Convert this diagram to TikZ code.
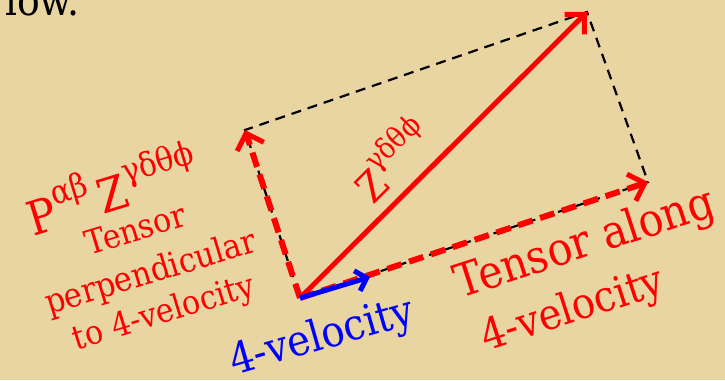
\documentclass[tikz,border=0pt]{standalone}
\usepackage{fontspec}
\setmainfont{DejaVu Serif}[FakeStretch=0.9]
\usetikzlibrary{arrows.meta}
\definecolor{parch}{RGB}{232,213,162}
\definecolor{vecred}{RGB}{255,0,0}
\definecolor{vecblue}{RGB}{0,0,255}
\newcommand\mysupA[1]{\raisebox{0.5em}{\fontsize{33}{33}\selectfont #1}}
\newcommand\mysupB[1]{\raisebox{0.5em}{\fontsize{29}{29}\selectfont #1}}
\begin{document}
\begin{tikzpicture}[x=1pt,y=-1pt,
  blackdash/.style={draw=black, line width=2.2pt, dash pattern=on 10pt off 7pt},
  reddash/.style={draw=vecred, line width=6pt, dash pattern=on 15pt off 8pt,
     -{Straight Barb[length=14pt,width=28pt,line width=5pt]}},
  redvec/.style={draw=vecred, line width=5pt,
     -{Straight Barb[length=14pt,width=28pt,line width=5pt]}},
  bluevec/.style={draw=vecblue, line width=5pt,
     -{Straight Barb[length=10pt,width=21pt,line width=5pt]}},
  redlbl/.style={text=vecred, inner sep=0pt},
  bluelbl/.style={text=vecblue, inner sep=0pt}]
\clip (0,0) rectangle (725,380);
\fill[parch] (0,0) rectangle (725,380);

\node[anchor=base east, inner sep=0pt, font=\fontsize{42}{46}\selectfont] (low) at (80,16) {low.};

\coordinate (O) at (300,298);
\coordinate (A) at (648,182);
\coordinate (Z) at (587,12);
\coordinate (P) at (245,130);
\coordinate (U) at (370,277);

\draw[blackdash] (O) -- (A) -- (Z) -- (P) -- cycle;
\draw[reddash] (O) -- (A);
\draw[reddash] (O) -- (P);
\draw[redvec] (O) -- (Z);
\draw[bluevec] (O) -- (U);

\node[redlbl, rotate=45, font=\fontsize{41}{45}\selectfont] (zlab) at (390,158) {Z\mysupB{γδθϕ}};

\node[redlbl, rotate=17, font=\fontsize{47}{50}\selectfont] (l1) at (111,187) {P\mysupA{αβ}\,Z\mysupA{γδθϕ}};
\node[redlbl, rotate=17, font=\fontsize{33.5}{36}\selectfont] (l2) at (135,229) {Tensor};
\node[redlbl, rotate=17, font=\fontsize{34}{36}\selectfont] (l3) at (151,274) {perpendicular};
\node[redlbl, rotate=17, font=\fontsize{33.5}{36}\selectfont] (l4) at (164,314) {to 4-velocity};

\node[redlbl, rotate=18, font=\fontsize{46}{50}\selectfont] (ta1) at (585,245) {Tensor along};
\node[redlbl, rotate=18, font=\fontsize{43}{46}\selectfont] (ta2) at (573,311) {4-velocity};

\node[bluelbl, rotate=16, font=\fontsize{43}{46}\selectfont] (fv) at (322,338) {4-velocity};
\end{tikzpicture}
\end{document}
